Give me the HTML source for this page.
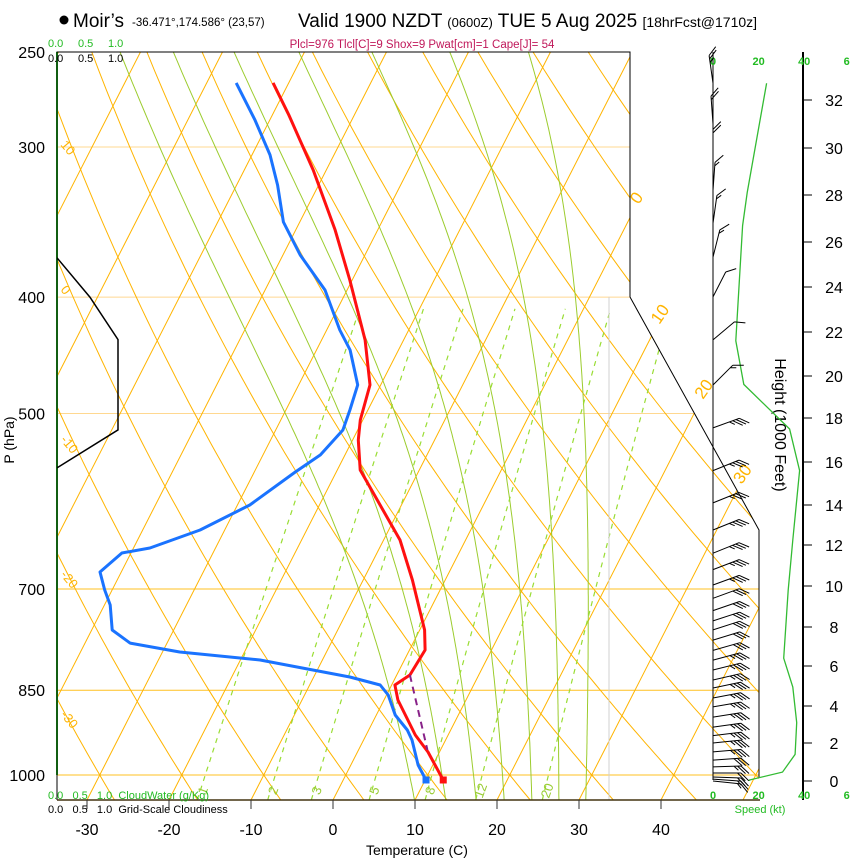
<!DOCTYPE html>
<html><head><meta charset="utf-8"><style>
html,body{margin:0;padding:0;background:#fff;}
svg{display:block;font-family:"Liberation Sans",Arial,sans-serif;}
</style></head><body>
<svg id="chart" width="850" height="860" viewBox="0 0 850 860" xmlns="http://www.w3.org/2000/svg">
<defs><clipPath id="plotClip"><polygon points="57,52 630,52 630,297 759,530 759,800 57,800"/></clipPath></defs>
<g>
<circle cx="64" cy="20" r="4.5" fill="#000"/>
<text x="73" y="27" font-size="19">Moir’s</text>
<text x="132" y="26" font-size="11.5">-36.471°,174.586° (23,57)</text>
<text x="298" y="27" font-size="19">Valid 1900 NZDT <tspan font-size="13">(0600Z)</tspan> TUE 5 Aug 2025 <tspan font-size="14">[18hrFcst@1710z]</tspan></text>
<text x="422" y="48" font-size="11.5" fill="#c0185a" text-anchor="middle">Plcl=976 Tlcl[C]=9 Shox=9 Pwat[cm]=1 Cape[J]= 54</text>
</g>
<g id="grid" clip-path="url(#plotClip)"></g>
<g id="overlay"></g>
</svg>
<script>
// ---- data ----
const tempP=[265.3,282.1,313.5,351.7,387.1,434.3,473.4,506.3,526.1,557.3,595.9,637.3,688.1,757.3,786.9,825.5,841.5,866.1,926.2,956.9,1009.6];
const tempC=[-51.9,-48.0,-41.6,-35.2,-30.3,-24.7,-21.3,-20.3,-19.3,-17.2,-12.6,-8.0,-4.0,0.6,1.9,1.6,0.4,1.7,6.0,8.6,12.2];
const dewP=[265.3,284.9,304.6,322.7,346.4,369.0,394.6,426.1,442.7,473.4,496.7,516.1,541.4,559.4,595.9,625.2,647.1,653.4,677.6,701.4,721.9,757.3,776.5,789.9,802.1,828.7,841.5,857.8,891.3,917.3,935.1,981.0,1009.6];
const dewC=[-56.4,-51.8,-47.8,-45.0,-42.0,-37.9,-32.7,-28.4,-25.9,-22.8,-22.2,-21.8,-23.0,-25.0,-28.5,-33.0,-38.0,-41.1,-42.6,-40.9,-39.3,-37.5,-34.5,-27.9,-17.6,-5.6,-1.4,0.2,2.3,4.7,5.9,8.2,10.1];
const parcelP=[825.5,953];
const parcelC=[1.6,8.4];
const isobarLevels=[300,400,500,700,850,1000];
const pressureTicks=[250,300,400,500,700,850,1000];
const tempTicks=[-30,-20,-10,0,10,20,30,40];
const dryThetas=[-40,-30,-20,-10,0,10,20,30,40,50,60,70,80,90,100,110,120,130,140,150];
const dryLabels=[10,0,-10,-20,-30];
const moistTopC=[-72.5,-66,-58.6,-50.7,-41.8,-32.3,-22.7];
const mixRatios=[1,2,3,5,8,12,20];
const isoLabels=[0,10,20,30];
const heightTicks=[0,2,4,6,8,10,12,14,16,18,20,22,24,26,28,30,32];
const speedTicks=[0,20,40,60];
const speedH=[0,0.05,0.47,1.4,3.1,4.95,6.4,9.8,12.25,15.6,17.5,19.6,21.6,26.7,28.1,32.7];
const speedV=[16,16,30.5,36,36.7,35,31,33,35,38,33.6,13.5,10,13,15,23.5];
const barbH=[15.6,14.1,12.75,11.6,10.8,10.05,9.4,8.8,8.3,7.85,7.33,6.8,6.3,5.8,5.3,4.9,4.4,3.95,3.4,2.86,2.4,2.0,1.53,1.1,0.74,0.42,0.21,0.1,0.0,17.55,19.57,21.64,23.56,25.33,26.8,28.2,29.6,31.0,32.7];
const barbDir=[68,68,68,68,69,70,70,71,72,72,73,74,75,76,77,78,79,80,81,82,83,84,85,86,88,90,92,94,96,70,45,50,27,14,8,4,0,356,352];
const barbSpd=[37,36,35,34,33,33,32,32,31,31,31,32,33,34,35,35,36,36,36,36,36,35,34,31,27,22,18,16,15,34,13,10,12,13,13,15,18,20,23];
const cloudP=[371,400,434,516,555];
const cloudV=[0,0.54,1,1,0];

// ---- axes ----
const X0=333,KT=8.2,SK=0.51,YB=800,Y1000=775,PS=521.6;
const yP=p=>Y1000-PS*Math.log(1000/p);
const xT=(T,p)=>X0+KT*T+SK*(YB-yP(p));
const pAt=y=>1000*Math.exp(-(Y1000-y)/PS);
const xC=v=>57+v*61;
const HK=[0,2,4,6,8,10,12,14,16,18,20,22,24,26,28,30,32];
const HY=[781,743,706,666,627,586,545,505,462,418,376,332,287,242,195,148,100];
function yH(h){let i=0;while(i<HK.length-2&&h>HK[i+1])i++;return HY[i]+(h-HK[i])*(HY[i+1]-HY[i])/(HK[i+1]-HK[i]);}
const xS=s=>713+s*2.28;
const NS="http://www.w3.org/2000/svg";
const grid=document.getElementById('grid'),ov=document.getElementById('overlay');
function mk(tag,attrs,parent){const e=document.createElementNS(NS,tag);for(const k in attrs)e.setAttribute(k,attrs[k]);parent.appendChild(e);return e;}
function poly(pts){return pts.map(q=>q[0].toFixed(1)+','+q[1].toFixed(1)).join(' ');}
const PTOP=pAt(52),PBOT=pAt(800);

// isobars
isobarLevels.forEach(p=>{const y=yP(p);
 const e=mk('line',{x1:57,x2:760,y1:y,y2:y,stroke:p>=700?'#ffc020':'#ffd890','stroke-width':1},grid);
 });
// isotherms
for(let T=-110;T<=50;T+=10){
 const e=mk('line',{x1:xT(T,PBOT),y1:800,x2:xT(T,PTOP),y2:52,stroke:'#ffb400','stroke-width':1},grid);
 }
// dry adiabats
dryThetas.forEach(th=>{const pts=[];for(let p=PBOT;p>=PTOP-1;p-=10){const T=(th+273.15)*Math.pow(p/1000,0.286)-273.15;pts.push([xT(T,p),yP(p)]);}
 const e=mk('polyline',{points:poly(pts),fill:'none',stroke:'#ffb400','stroke-width':1},grid);
 });
// moist adiabats (integrated downward from 250 hPa value)
function dTdp(T,p){const tc=T-273.15;const es=6.112*Math.exp(17.67*tc/(tc+243.5));const rs=0.622*es/(p-es);
 return (287*T+2.5e6*rs)/(1005+2.5e6*2.5e6*rs*0.622/(287*T*T))/p;}
moistTopC.forEach(tt=>{const pts=[];let T=tt+273.15;
 for(let p=250;p<=PBOT+5;p+=5){pts.push([xT(T-273.15,p),yP(p)]);T+=dTdp(T,p)*5;}
 const e=mk('polyline',{points:poly(pts),fill:'none',stroke:'#9ccc2e','stroke-width':1},grid);
 });
// mixing ratio lines
mixRatios.forEach(w=>{const pts=[];for(let p=PBOT;p>=400;p-=10){const e=w*p/(622+w);const l=Math.log(e/6.112);const T=243.5*l/(17.67-l);pts.push([xT(T,p),yP(p)]);}
 const e=mk('polyline',{points:poly(pts),fill:'none',stroke:'#99dd33','stroke-width':1.2,'stroke-dasharray':'5,5'},grid);
 
 const p=1030,ee=w*p/(622+w),l=Math.log(ee/6.112),T=243.5*l/(17.67-l);
 const t=mk('text',{x:xT(T,p)+2,y:yP(p)+5,'font-size':13,fill:'#99cc33','text-anchor':'middle',transform:`rotate(-70 ${xT(T,p)+2} ${yP(p)})`},ov);
 t.textContent=w;});
// gray vertical
mk('line',{x1:609,x2:609,y1:297,y2:800,stroke:'#d0d0d0','stroke-width':1},grid);

// labels
const dryLabelY=[145,290,440,575,715];
dryLabels.forEach((th,i)=>{const x=60,y=dryLabelY[i];
 const t=mk('text',{x:x,y:y,'font-size':13,fill:'#ffb400',transform:`rotate(50 ${x} ${y})`},ov);t.textContent=th;
 });
const isoY=[205,325,400,485];
isoLabels.forEach((T,i)=>{const y=isoY[i];const x=xT(T,pAt(y))+2;
 const t=mk('text',{x:x,y:y,'font-size':17,fill:'#ffb400',transform:`rotate(-55 ${x} ${y})`},ov);t.textContent=T;
 });

// cloud
mk('line',{x1:57,x2:57,y1:52,y2:775,stroke:'#22bb22','stroke-width':2},ov);
{const pts=cloudP.map((p,i)=>[xC(cloudV[i]),yP(p)]);const e=mk('polyline',{points:poly(pts),fill:'none',stroke:'#000','stroke-width':1.5},ov);
 }

// profiles
function prof(P,C,color,name,w,dash){const pts=P.map((p,i)=>[xT(C[i],p),yP(p)]);
 const a={points:poly(pts),fill:'none',stroke:color,'stroke-width':w,'stroke-linejoin':'round'};if(dash)a['stroke-dasharray']=dash;
 const e=mk('polyline',a,ov);return pts;}
const tp=prof(tempP,tempC,'#ff1010','temperature-line',3);
const dp=prof(dewP,dewC,'#1a73ff','dewpoint-line',3);
prof(parcelP,parcelC,'#882288','parcel-line',2,'7,5');
{const q=tp[tp.length-1];const e=mk('rect',{x:q[0]-3.5,y:q[1]-3.5,width:7,height:7,fill:'#ff1010'},ov);}
{const q=dp[dp.length-1];const e=mk('rect',{x:q[0]-3.5,y:q[1]-3.5,width:7,height:7,fill:'#1a73ff'},ov);}

// border
mk('polyline',{points:'57,800 57,52 630,52 630,297 759,530 759,778',fill:'none',stroke:'#000','stroke-width':1},ov);
mk('line',{x1:57,x2:760,y1:800,y2:800,stroke:'#443311','stroke-width':1.5},ov);
mk('line',{x1:713,x2:713,y1:52,y2:780,stroke:'#000','stroke-width':1},ov);

// pressure ticks
pressureTicks.forEach(p=>{const t=mk('text',{x:45,y:yP(p)+6,'font-size':16,'text-anchor':'end'},ov);t.textContent=p;
 });
{const t=mk('text',{x:14,y:440,'font-size':14,'text-anchor':'middle',transform:'rotate(-90 14 440)'},ov);t.textContent='P (hPa)';}
// temp ticks
tempTicks.forEach(T=>{const x=X0+KT*T;mk('line',{x1:x,x2:x,y1:800,y2:809,stroke:'#333'},ov);
 const t=mk('text',{x:x,y:835,'font-size':16,'text-anchor':'middle'},ov);t.textContent=T;});
{const t=mk('text',{x:417,y:855,'font-size':14,'text-anchor':'middle'},ov);t.textContent='Temperature (C)';}
// cloud scale labels
[[47,'#22bb22'],[62,'#000']].forEach(([y,c])=>{['0.0','0.5','1.0'].forEach((s,i)=>{const t=mk('text',{x:48+i*30,y:y,'font-size':11,fill:c},ov);t.textContent=s;});});
{const t=mk('text',{x:48,y:799,'font-size':11,fill:'#22bb22'},ov);t.textContent='0.0   0.5   1.0  CloudWater (g/Kg)';t.style.whiteSpace='pre';}
{const t=mk('text',{x:48,y:813,'font-size':11,fill:'#000'},ov);t.textContent='0.0   0.5   1.0  Grid-Scale Cloudiness';t.style.whiteSpace='pre';}

// height axis
mk('line',{x1:803,x2:803,y1:52,y2:800,stroke:'#000','stroke-width':2},ov);
heightTicks.forEach(h=>{const y=yH(h);mk('line',{x1:803,x2:812,y1:y,y2:y,stroke:'#000'},ov);
 const t=mk('text',{x:834,y:y+6,'font-size':16,'text-anchor':'middle'},ov);t.textContent=h;});
{const t=mk('text',{x:775,y:425,'font-size':16,'text-anchor':'middle',transform:'rotate(90 775 425)'},ov);t.textContent='Height (1000 Feet)';}
speedTicks.forEach(s=>{[65,799].forEach(y=>{const t=mk('text',{x:xS(s),y:y,'font-size':11,'font-weight':'bold',fill:'#22bb22','text-anchor':'middle'},ov);t.textContent=s;});});
{const t=mk('text',{x:760,y:813,'font-size':11,fill:'#22bb22','text-anchor':'middle'},ov);t.textContent='Speed (kt)';}
{const pts=speedH.map((h,i)=>[xS(speedV[i]),yH(h)]);const e=mk('polyline',{points:poly(pts),fill:'none',stroke:'#33bb33','stroke-width':1.3},ov);}
// barbs
barbH.forEach((h,i)=>{const bx=713,by=yH(h);const a=barbDir[i]*Math.PI/180;const ux=Math.sin(a),uy=-Math.cos(a);const L=28;
 const tx=bx+ux*L,ty=by+uy*L;let d=`M${bx},${by.toFixed(1)}L${tx.toFixed(1)},${ty.toFixed(1)}`;
 const r=45*Math.PI/180;const fx=ux*Math.cos(r)-uy*Math.sin(r),fy=ux*Math.sin(r)+uy*Math.cos(r);
 let s=Math.round(barbSpd[i]/5)*5;let k=0;
 while(s>=10){const px=tx-ux*k*3.5,py=ty-uy*k*3.5;d+=`M${px.toFixed(1)},${py.toFixed(1)}l${(fx*11).toFixed(1)},${(fy*11).toFixed(1)}`;s-=10;k++;}
 if(s>=5){const px=tx-ux*k*3.5,py=ty-uy*k*3.5;d+=`M${px.toFixed(1)},${py.toFixed(1)}l${(fx*6).toFixed(1)},${(fy*6).toFixed(1)}`;}
 const e=mk('path',{d:d,fill:'none',stroke:'#000','stroke-width':1},ov);
 
 });
</script>
</body></html>
